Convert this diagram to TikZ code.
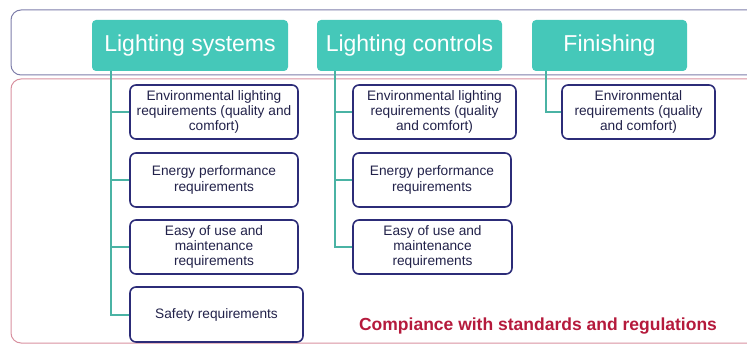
\documentclass[tikz,border=0pt]{standalone}
\usepackage{fontspec}
\setmainfont{Liberation Sans}
\definecolor{headteal}{HTML}{45C8B9}
\definecolor{connteal}{HTML}{4AB3A4}
\definecolor{navy}{HTML}{2C2C78}
\definecolor{txtnavy}{HTML}{22224A}
\definecolor{bandtop}{HTML}{7E7EAA}
\definecolor{bandlow}{HTML}{D8909F}
\definecolor{redtxt}{HTML}{B51A3C}
\begin{document}
\begin{tikzpicture}[x=1pt,y=-1pt,
  head/.style={fill=headteal, rounded corners=4pt, text=white,
    font=\fontsize{23}{27}\selectfont, minimum height=51pt, inner sep=0pt},
  req/.style={draw=navy, line width=1.6pt, rounded corners=6pt, fill=white,
    text=txtnavy, font=\fontsize{13.7}{15.2}\selectfont, align=center,
    inner sep=0pt, minimum height=54pt},
  conn/.style={draw=connteal, line width=2pt},
  band/.style={line width=1pt, rounded corners=10pt}]
\useasboundingbox (0,0) rectangle (747,345);
\clip (0,0) rectangle (747,345);
% bands
\draw[band, draw=bandtop] (11,10) rectangle (780,75);
\draw[band, draw=bandlow] (11,79) rectangle (780,343);
% headers
\node[head, minimum width=196pt] (h1) at (190,45.5) {Lighting systems};
\node[head, minimum width=185pt] (h2) at (409.5,45.5) {Lighting controls};
\node[head, minimum width=155pt] (h3) at (609.5,45.5) {Finishing};
% column 1
\node[req, minimum width=168pt] (a1) at (214,112) {Environmental lighting\\requirements (quality and\\comfort)};
\node[req, minimum width=168pt] (a2) at (214,180) {Energy performance\\requirements};
\node[req, minimum width=168pt] (a3) at (214,247) {Easy of use and\\maintenance\\requirements};
\node[req, minimum width=173pt, minimum height=55pt] (a4) at (216.5,314.5) {Safety requirements};
% column 2
\node[req, minimum width=163pt] (b1) at (434.5,112) {Environmental lighting\\requirements (quality\\and comfort)};
\node[req, minimum width=158pt] (b2) at (432,180) {Energy performance\\requirements};
\node[req, minimum width=159pt] (b3) at (432.5,247) {Easy of use and\\maintenance\\requirements};
% column 3
\node[req, minimum width=153pt] (c1) at (638.5,112) {Environmental\\requirements (quality\\and comfort)};
% connectors
\coordinate (ha) at ([xshift=19pt]h1.south west);
\coordinate (hb) at ([xshift=18pt]h2.south west);
\coordinate (hc) at ([xshift=14pt]h3.south west);
\foreach \n in {a1,a2,a3,a4} \draw[conn] (\n.west) -| (ha);
\foreach \n in {b1,b2,b3} \draw[conn] (\n.west) -| (hb);
\draw[conn] (c1.west) -| (hc);
% footer text
\node[text=redtxt, font=\bfseries\fontsize{17.5}{20}\selectfont, anchor=base] (note) at (538,330) {Compiance with standards and regulations};
\end{tikzpicture}
\end{document}
